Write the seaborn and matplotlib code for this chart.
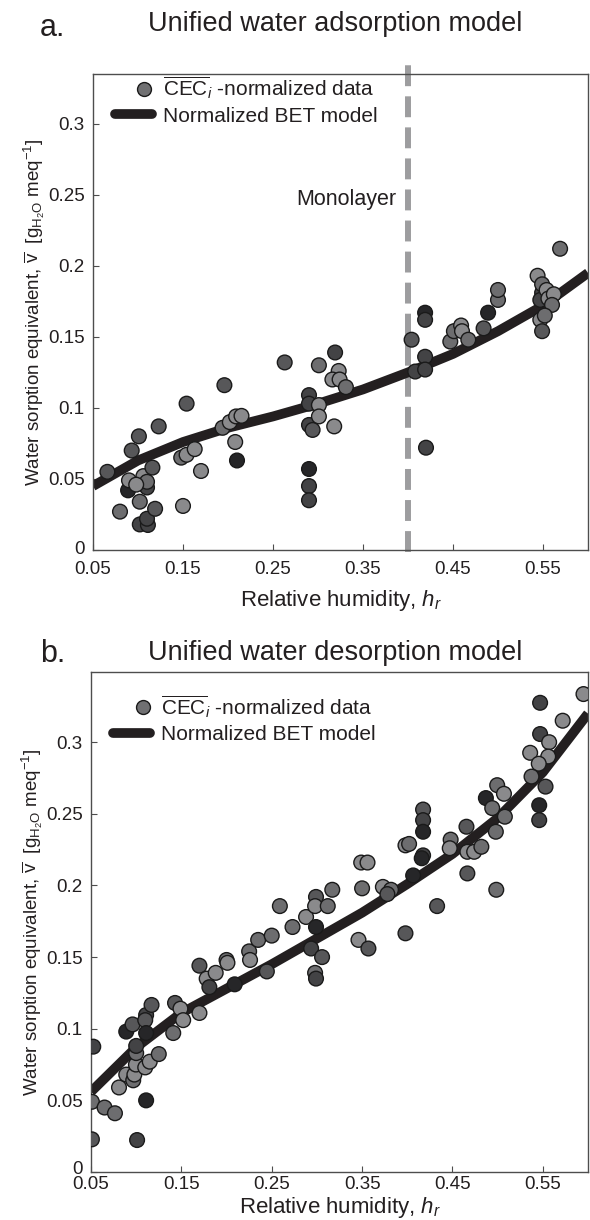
import matplotlib
matplotlib.use("Agg")
import matplotlib.pyplot as plt
import matplotlib.transforms as mtransforms
from matplotlib.lines import Line2D
from matplotlib.legend_handler import HandlerLine2D
import seaborn as sns
import pandas as pd
import numpy as np

# ---------------- data ----------------
hr_ticks = [0.05, 0.15, 0.25, 0.35, 0.45, 0.55]
hr_tick_labels = ["0.05", "0.15", "0.25", "0.35", "0.45", "0.55"]
v_ticks = [0, 0.05, 0.1, 0.15, 0.2, 0.25, 0.3]
v_tick_labels = ["0", "0.05", "0.1", "0.15", "0.2", "0.25", "0.3"]

# Normalized BET model curves
bet_h = [0.05, 0.1, 0.15, 0.2, 0.25, 0.3, 0.35, 0.4, 0.45, 0.5, 0.55, 0.6]
bet_ads_v = [0.045, 0.063, 0.076, 0.086, 0.094, 0.103, 0.113, 0.125, 0.138, 0.154, 0.172, 0.195]
bet_des_v = [0.056, 0.087, 0.111, 0.128, 0.145, 0.163, 0.181, 0.201, 0.222, 0.247, 0.279, 0.320]

# adsorption data (h, v, shade)
ads_h = [0.066, 0.080, 0.089, 0.090, 0.093, 0.101, 0.102, 0.106, 0.110, 0.110, 0.116, 0.098,
         0.102, 0.111, 0.110, 0.119, 0.123, 0.154, 0.148, 0.154, 0.163, 0.150, 0.170, 0.196,
         0.194, 0.202, 0.209, 0.215, 0.208, 0.210, 0.263, 0.290, 0.290, 0.290, 0.294, 0.290,
         0.290, 0.290, 0.301, 0.301, 0.301, 0.319, 0.323, 0.316, 0.324, 0.331, 0.318, 0.404,
         0.419, 0.419, 0.419, 0.408, 0.419, 0.420, 0.447, 0.451, 0.459, 0.460, 0.467, 0.484,
         0.489, 0.500, 0.500, 0.549, 0.547, 0.544, 0.549, 0.554, 0.556, 0.562, 0.560, 0.547,
         0.552, 0.549, 0.569]
ads_v = [0.055, 0.027, 0.042, 0.049, 0.070, 0.080, 0.034, 0.052, 0.044, 0.048, 0.058, 0.046,
         0.018, 0.0176, 0.022, 0.029, 0.087, 0.103, 0.065, 0.067, 0.071, 0.031, 0.0556, 0.116,
         0.086, 0.090, 0.094, 0.0944, 0.076, 0.063, 0.132, 0.109, 0.103, 0.088, 0.0845, 0.057,
         0.045, 0.035, 0.130, 0.102, 0.094, 0.139, 0.126, 0.120, 0.120, 0.1146, 0.087, 0.148,
         0.167, 0.162, 0.136, 0.1256, 0.127, 0.072, 0.1467, 0.154, 0.158, 0.154, 0.148, 0.156,
         0.167, 0.176, 0.183, 0.181, 0.176, 0.193, 0.187, 0.183, 0.177, 0.180, 0.1725, 0.162,
         0.165, 0.154, 0.212]
ads_shade = ["MD", "M", "K", "L", "MD", "MD", "M", "L", "D", "M", "MD", "L",
             "D", "D", "D", "MD", "MD", "MD", "M", "L", "L", "L", "L", "MD",
             "M", "L", "L", "L", "L", "K", "MD", "D", "D", "D", "MD", "K",
             "D", "D", "M", "L", "L", "D", "L", "L", "L", "M", "L", "MD",
             "K", "D", "D", "D", "D", "D", "M", "M", "L", "L", "M", "MD",
             "K", "M", "M", "D", "D", "L", "M", "L", "L", "L", "M", "L",
             "M", "MD", "M"]

# desorption data
des_h = [0.0525, 0.051, 0.051, 0.065, 0.0765, 0.081, 0.089, 0.096, 0.089, 0.0967, 0.098, 0.0997,
         0.100, 0.100, 0.101, 0.111, 0.110, 0.111, 0.111, 0.110, 0.115, 0.117, 0.125, 0.143,
         0.141, 0.149, 0.152, 0.170, 0.178, 0.181, 0.188, 0.170, 0.200, 0.201, 0.209, 0.225,
         0.226, 0.235, 0.250, 0.2446, 0.259, 0.273, 0.288, 0.299, 0.298, 0.312, 0.317, 0.299,
         0.2936, 0.3057, 0.298, 0.299, 0.346, 0.357, 0.349, 0.356, 0.350, 0.373, 0.382, 0.378,
         0.398, 0.398, 0.402, 0.4065, 0.4175, 0.4175, 0.4175, 0.4175, 0.416, 0.433, 0.448, 0.447,
         0.4655, 0.4665, 0.474, 0.482, 0.4665, 0.487, 0.494, 0.4995, 0.507, 0.508, 0.498, 0.4985,
         0.536, 0.547, 0.547, 0.557, 0.556, 0.5455, 0.5375, 0.553, 0.546, 0.546, 0.572, 0.595]
des_v = [0.0875, 0.049, 0.0228, 0.045, 0.041, 0.059, 0.098, 0.103, 0.068, 0.064, 0.068, 0.075,
         0.083, 0.088, 0.0223, 0.1096, 0.106, 0.097, 0.050, 0.073, 0.077, 0.1166, 0.0823, 0.118,
         0.097, 0.114, 0.106, 0.144, 0.135, 0.129, 0.139, 0.111, 0.148, 0.146, 0.131, 0.154,
         0.148, 0.162, 0.165, 0.140, 0.1856, 0.171, 0.178, 0.192, 0.1856, 0.1856, 0.197, 0.171,
         0.156, 0.150, 0.139, 0.135, 0.162, 0.156, 0.216, 0.216, 0.198, 0.199, 0.197, 0.194,
         0.1666, 0.228, 0.229, 0.207, 0.253, 0.2456, 0.2375, 0.221, 0.219, 0.1856, 0.232, 0.226,
         0.241, 0.2235, 0.2235, 0.227, 0.2084, 0.261, 0.254, 0.270, 0.264, 0.248, 0.2375, 0.197,
         0.2926, 0.3275, 0.3057, 0.300, 0.290, 0.285, 0.276, 0.269, 0.256, 0.2456, 0.315, 0.3336]
des_shade = ["D", "M", "MD", "M", "M", "L", "K", "MD", "L", "M", "L", "L",
             "M", "D", "D", "D", "MD", "K", "K", "L", "L", "MD", "M", "MD",
             "M", "L", "L", "MD", "L", "D", "L", "L", "M", "L", "K", "M",
             "L", "M", "M", "MD", "M", "M", "L", "MD", "L", "M", "M", "K",
             "D", "MD", "M", "D", "L", "MD", "L", "L", "M", "L", "M", "MD",
             "MD", "L", "M", "K", "MD", "D", "K", "D", "K", "MD", "M", "L",
             "MD", "L", "L", "M", "MD", "K", "M", "M", "L", "M", "M", "M",
             "L", "D", "D", "L", "L", "L", "M", "MD", "K", "D", "L", "L"]

monolayer_h = 0.4

# ---------------- style ----------------
sns.set_style("white")
plt.rcParams["font.family"] = ["Liberation Sans", "DejaVu Sans"]
plt.rcParams["mathtext.fontset"] = "custom"
plt.rcParams["mathtext.rm"] = "Liberation Sans"
plt.rcParams["mathtext.it"] = "Liberation Sans:italic"
plt.rcParams["mathtext.bf"] = "Liberation Sans:bold"
plt.rcParams["mathtext.sf"] = "Liberation Sans"

palette = {"L": "#8a8a8c", "M": "#6d6d6f", "MD": "#575759", "D": "#434345", "K": "#262628"}
txt_col = "#231f20"
curve_col = "#231f20"

fig = plt.figure(figsize=(5.9, 12.2), dpi=100)
ax1 = fig.add_axes([93 / 590, 1 - 550 / 1220, 495 / 590, 476 / 1220])
ax2 = fig.add_axes([91 / 590, 1 - 1172 / 1220, 497 / 590, 500 / 1220])

ads_df = pd.DataFrame({"h": ads_h, "v": ads_v, "shade": ads_shade})
des_df = pd.DataFrame({"h": des_h, "v": des_v, "shade": des_shade})
bet_ads_df = pd.DataFrame({"h": bet_h, "v": bet_ads_v})
bet_des_df = pd.DataFrame({"h": bet_h, "v": bet_des_v})


def style_axes(ax, ytop, tickpad, labelpad, zero_shift):
    ax.set_xlim(0.05, 0.6)
    ax.set_ylim(0, ytop)
    ax.set_xticks(hr_ticks)
    ax.set_xticklabels(hr_tick_labels)
    ax.set_yticks(v_ticks)
    ax.set_yticklabels(v_tick_labels)
    ax.tick_params(direction="in", length=4, width=0.8, colors="#4d4d4d",
                   labelcolor=txt_col, labelsize=13.5, pad=6,
                   bottom=True, left=True, top=False, right=False)
    ax.tick_params(axis="x", pad=tickpad)
    for s in ax.spines.values():
        s.set_color("#4d4d4d")
        s.set_linewidth(1.0)
    ax.set_xlabel(r"Relative humidity, $h_r$", fontsize=16, color=txt_col, labelpad=labelpad)
    ax.set_ylabel(r"Water sorption equivalent, $\overline{\mathrm{v}}$  "
                  r"[g$_{\mathrm{H}_{2}\mathrm{O}}$ meq$^{-1}$]",
                  fontsize=13.5, color=txt_col, labelpad=1)
    # lift the "0" label slightly so it sits above the first x label
    zl = ax.get_yticklabels()[0]
    zl.set_transform(zl.get_transform() +
                     mtransforms.ScaledTranslation(0, zero_shift / 100, fig.dpi_scale_trans))


def draw_panel(ax, df, bet_df):
    sns.lineplot(data=bet_df, x="h", y="v", ax=ax, color=curve_col, linewidth=7,
                 solid_capstyle="butt", zorder=2, legend=False)
    sns.scatterplot(data=df, x="h", y="v", hue="shade", palette=palette, ax=ax,
                    s=112, edgecolor="#1a1a1a", linewidth=1.0, zorder=3, legend=False)


class OffsetMarkerHandler(HandlerLine2D):
    """Place the legend marker right of the handle centre, like the original."""
    def create_artists(self, legend, orig_handle, xdescent, ydescent, width, height,
                       fontsize, trans):
        artists = super().create_artists(legend, orig_handle, xdescent, ydescent, width,
                                         height, fontsize, trans)
        for a in artists:
            if isinstance(a, Line2D):
                a.set_xdata(np.asarray(a.get_xdata()) + 0.3 * width)
        return artists


def add_legend(ax, ytop_frac):
    h_dot = Line2D([], [], linestyle="none", marker="o", markersize=10,
                   markerfacecolor="#707072", markeredgecolor="#1a1a1a", markeredgewidth=1.0)
    h_line = Line2D([], [], color=curve_col, linewidth=7, solid_capstyle="round")
    labels = [r"$\overline{\mathrm{CEC}}_{i}$ -normalized data", "Normalized BET model"]
    leg = ax.legend([h_dot, h_line], labels, loc="upper left",
                    bbox_to_anchor=(0.045, ytop_frac),
                    frameon=False, fontsize=15, handlelength=1.75, handletextpad=0.55,
                    borderaxespad=0, borderpad=0, labelspacing=0.25,
                    handler_map={h_dot: OffsetMarkerHandler()})
    for t in leg.get_texts():
        t.set_color(txt_col)


# panel a
ax1.axvline(monolayer_h, ymin=-0.005, ymax=1.02, color="#9d9d9f", linewidth=4.3,
            dashes=(3.5, 1.7), zorder=1, clip_on=False)
draw_panel(ax1, ads_df, bet_ads_df)
style_axes(ax1, 0.335, tickpad=8, labelpad=7, zero_shift=2)
add_legend(ax1, 0.998)
ax1.text(0.387, 0.2465, "Monolayer", ha="right", va="center", fontsize=15.5, color=txt_col)

# panel b
draw_panel(ax2, des_df, bet_des_df)
style_axes(ax2, 0.349, tickpad=3, labelpad=1, zero_shift=5)
add_legend(ax2, 0.957)

# titles
fig.text(335 / 590, 1 - 31 / 1220, "Unified water adsorption model", ha="center",
         va="baseline", fontsize=19.5, color=txt_col)
fig.text(40 / 590, 1 - 36 / 1220, "a.", ha="left", va="baseline", fontsize=22, color=txt_col)
fig.text(335 / 590, 1 - 660 / 1220, "Unified water desorption model", ha="center",
         va="baseline", fontsize=19.5, color=txt_col)
fig.text(40 / 590, 1 - 662 / 1220, "b.", ha="left", va="baseline", fontsize=22, color=txt_col)

fig.savefig("out.png", dpi=100, facecolor="white")
